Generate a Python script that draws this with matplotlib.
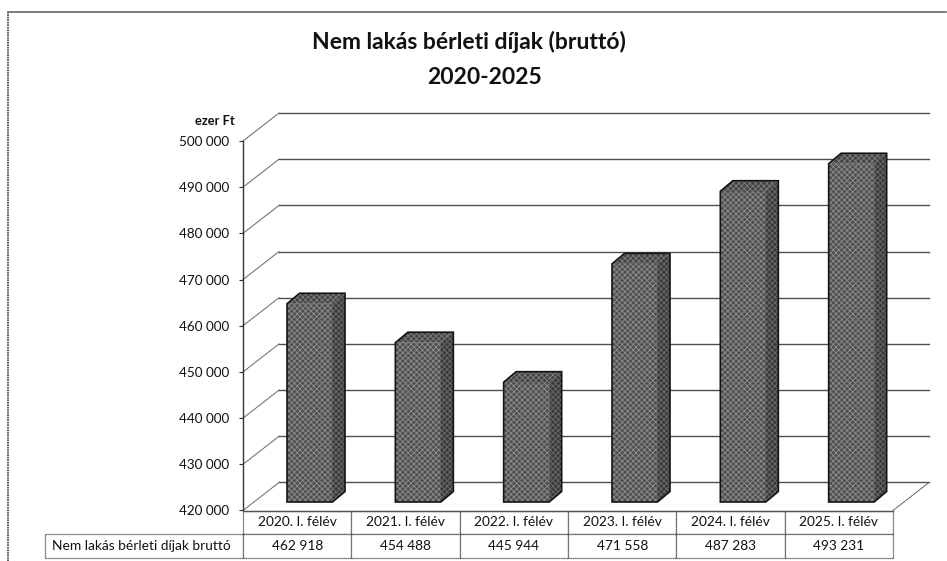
import matplotlib
matplotlib.use("Agg")
import matplotlib.pyplot as plt
from matplotlib.patches import Polygon

plt.rcParams['font.family'] = ['Lato', 'DejaVu Sans']
plt.rcParams['hatch.linewidth'] = 0.6

categories = ["2020. I. félév", "2021. I. félév", "2022. I. félév",
              "2023. I. félév", "2024. I. félév", "2025. I. félév"]
values = [462918, 454488, 445944, 471558, 487283, 493231]
value_labels = ["462 918", "454 488", "445 944", "471 558", "487 283", "493 231"]
row_label = "Nem lakás bérleti díjak bruttó"
yticks = [420000, 430000, 440000, 450000, 460000, 470000, 480000, 490000, 500000]
W, H = 947, 561

fig = plt.figure(figsize=(W / 100, H / 100), dpi=100)
# plot area in pixels of the picture
left, right, top, bottom = 243, 893, 141, 510.5
ax = fig.add_axes([left / W, 1 - bottom / H, (right - left) / W, (bottom - top) / H])
ax.set_xlim(0, 6)
ax.set_ylim(420000, 500000)
ax.patch.set_alpha(0)

px_x = 6 / (right - left)
px_y = 80000 / (bottom - top)
wall_dx, wall_dy = 36 * px_x, 28 * px_y

# back wall and floor
for v in yticks:
    ax.plot([0, wall_dx], [v, v + wall_dy], color='#666666', lw=0.7, clip_on=False, zorder=1)
    ax.plot([wall_dx, 6 + wall_dx], [v + wall_dy, v + wall_dy], color='#505050', lw=1.0, clip_on=False, zorder=1)
ax.plot([6, 6 + wall_dx], [420000, 420000 + wall_dy], color='#666666', lw=0.7, clip_on=False, zorder=1)

# 3d bars
bar_off, bar_w = 44 * px_x, 45.5 * px_x
depth_x, depth_y = 12.5 * px_x, 10.5 * px_y
lift = 8.5 * px_y
base = 420000 + lift
hatch_col = '#8e8e8e'
for i, v in enumerate(values):
    x0 = i + bar_off
    x1 = x0 + bar_w
    t = v + lift
    faces = [
        ([(x0, base), (x1, base), (x1, t), (x0, t)], '#505050', hatch_col),
        ([(x1, base), (x1 + depth_x, base + depth_y), (x1 + depth_x, t + depth_y), (x1, t)], '#3a3a3a', '#6c6c6c'),
        ([(x0, t), (x1, t), (x1 + depth_x, t + depth_y), (x0 + depth_x, t + depth_y)], '#444444', '#808080'),
    ]
    for pts, fc, hc in faces:
        ax.add_patch(Polygon(pts, facecolor=fc, edgecolor=hc, lw=0, hatch='xxxxxx', clip_on=False, zorder=3))
    outline = [(x0, base), (x1, base), (x1 + depth_x, base + depth_y), (x1 + depth_x, t + depth_y),
               (x0 + depth_x, t + depth_y), (x0, t)]
    ax.add_patch(Polygon(outline, fill=False, edgecolor='#141414', lw=1.2, clip_on=False, zorder=4))

for s in ('top', 'right'):
    ax.spines[s].set_visible(False)
ax.spines['left'].set(color='#333333', lw=1.0)
ax.spines['bottom'].set(color='#555555', lw=1.0)
ax.set_yticks(yticks)
ax.set_yticklabels([f"{v:,}".replace(",", " ") for v in yticks], fontsize=9.7, color='#111111')
ax.tick_params(axis='y', length=3, width=0.8, color='#333333', pad=7)
ax.set_xticks([])

# data table under the axis, first column holds the row label
row_h = 47 / (bottom - top)
label_w = 198 / (right - left)
tbl = ax.table(cellText=[[row_label] + value_labels], colLabels=[""] + categories,
               colWidths=[label_w] + [1 / 6] * 6, cellLoc='center',
               bbox=[-label_w, -row_h, 1 + label_w, row_h])
tbl.auto_set_font_size(False)
tbl.set_fontsize(9.9)
for key, cell in tbl.get_celld().items():
    cell.set_edgecolor('#444444')
    cell.set_linewidth(0.9)
    cell.set_linestyle((0, (1, 0.6)))
    cell.get_text().set_color('#111111')
tbl[(0, 0)].visible_edges = ''
tbl[(1, 0)].get_text().set_horizontalalignment('left')
tbl[(1, 0)].PAD = 0.035

fig.text(235 / W, 1 - 121 / H, "ezer Ft", ha='right', va='center', fontsize=9.3, fontweight='bold', color='#111111')

# title, the second line sits further right in the original
fig.text(469 / W, 1 - 42 / H, "Nem lakás bérleti díjak (bruttó)", ha='center', va='center',
         fontsize=16.5, fontweight='bold', color='#111111')
fig.text(484 / W, 1 - 78 / H, "2020-2025", ha='center', va='center',
         fontsize=16.5, fontweight='bold', color='#111111')

# outer chart frame (runs off the scan)
fig.add_artist(plt.Line2D([8 / W, 8 / W], [0, 1 - 12 / H], color='#444444', lw=1.2, ls=(0, (1, 0.5))))
fig.add_artist(plt.Line2D([8 / W, 946 / W], [1 - 12 / H, 1 - 12 / H], color='#666666', lw=1.2))

fig.savefig("out.png", dpi=100)
